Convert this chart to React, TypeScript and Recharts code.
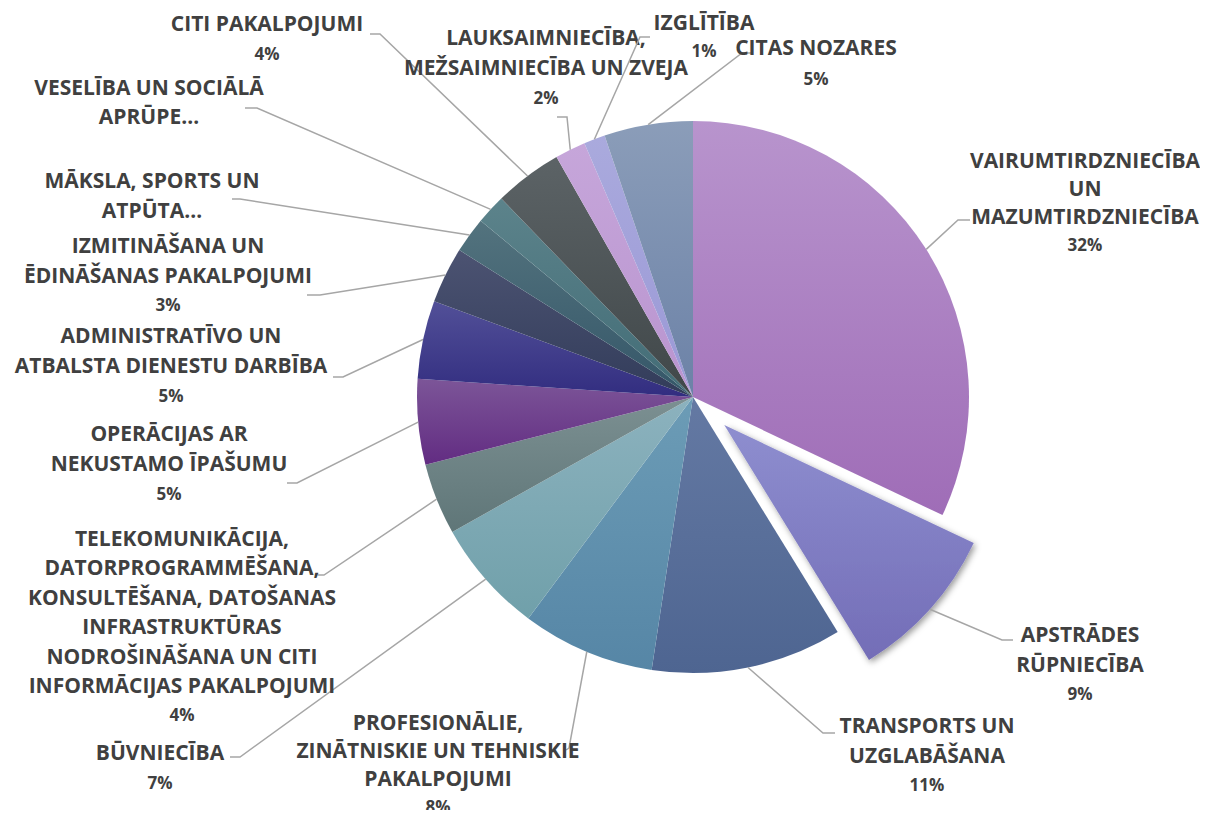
import { PieChart, Pie, Cell, Sector } from 'recharts';

const categories = [
  'VAIRUMTIRDZNIECĪBA\nUN\nMAZUMTIRDZNIECĪBA',
  'APSTRĀDES\nRŪPNIECĪBA',
  'TRANSPORTS UN\nUZGLABĀŠANA',
  'PROFESIONĀLIE,\nZINĀTNISKIE UN TEHNISKIE\nPAKALPOJUMI',
  'BŪVNIECĪBA',
  'TELEKOMUNIKĀCIJA,\nDATORPROGRAMMĒŠANA,\nKONSULTĒŠANA, DATOŠANAS\nINFRASTRUKTŪRAS\nNODROŠINĀŠANA UN CITI\nINFORMĀCIJAS PAKALPOJUMI',
  'OPERĀCIJAS AR\nNEKUSTAMO ĪPAŠUMU',
  'ADMINISTRATĪVO UN\nATBALSTA DIENESTU DARBĪBA',
  'IZMITINĀŠANA UN\nĒDINĀŠANAS PAKALPOJUMI',
  'MĀKSLA, SPORTS UN\nATPŪTA…',
  'VESELĪBA UN SOCIĀLĀ\nAPRŪPE…',
  'CITI PAKALPOJUMI',
  'LAUKSAIMNIECĪBA,\nMEŽSAIMNIECĪBA UN ZVEJA',
  'IZGLĪTĪBA',
  'CITAS NOZARES',
];

// share of each sector, %
const shares = [32.1, 9.2, 11.2, 7.8, 6.7, 4.2, 5.0, 4.6, 3.3, 2.1, 1.75, 4.0, 1.8, 1.25, 5.2];

// gradient colours, top -> bottom
const gradTop = [
  '#b894cd', '#8e8ecf', '#6479a3', '#6c9cb6', '#8cb2be', '#7c9092', '#7c5598', '#525098',
  '#4c5372', '#53737e', '#5c838b', '#5c6366', '#c6a6da', '#aaaadd', '#8b9db9',
];
const gradBottom = [
  '#9f6db7', '#736db7', '#4e6591', '#5686a6', '#70a0aa', '#5f7678', '#622c82', '#322d80',
  '#323c5a', '#345668', '#426c76', '#404749', '#b994cf', '#9a98d6', '#6c82a7',
];

// label text placement and leader line bends (page pixels)
const labelLayout = [
  { x: 1085, y: 160, step: 28, elbow: [958, 220], end: [970, 220] },
  { x: 1080, y: 634, step: 29.5, elbow: [1002, 640], end: [1013, 640] },
  { x: 927, y: 725, step: 29.5, elbow: [823, 733], end: [835, 733] },
  { x: 438, y: 722, step: 28, elbow: [569, 748], end: [566, 750] },
  { x: 160, y: 752, step: 29.5, elbow: [240, 757], end: [230, 757] },
  { x: 182, y: 538, step: 29.4, elbow: [324, 575], end: [318, 575] },
  { x: 169, y: 433, step: 30, elbow: [297, 483], end: [287, 483] },
  { x: 171, y: 335, step: 30, elbow: [343, 377], end: [333, 377] },
  { x: 168, y: 245, step: 29.5, elbow: [320, 295], end: [307, 295] },
  { x: 152, y: 180, step: 30, elbow: [240, 199], end: [232, 199] },
  { x: 149, y: 87, step: 29, elbow: [257, 108], end: [245, 108] },
  { x: 267, y: 23, step: 30, elbow: [380, 34], end: [370, 34] },
  { x: 546, y: 37, step: 30, elbow: [567, 117], end: [557, 117] },
  { x: 704, y: 22, step: 28, elbow: [640, 37], end: [650, 37] },
  { x: 816, y: 47, step: 31, elbow: [742, 53], end: [753, 53] },
];

const data = categories.map((name, i) => ({ name, value: shares[i] }));

const RAD = Math.PI / 180;
const EXPLODED = 1;
const EXPLODE_DIST = 42;

const renderLabel = (props: any) => {
  const { cx, cy, midAngle, outerRadius, startAngle, endAngle, index, percent } = props;
  const name: string = data[index].name;
  const ex = index === EXPLODED;
  const dx = ex ? EXPLODE_DIST * Math.cos(-midAngle * RAD) : 0;
  const dy = ex ? EXPLODE_DIST * Math.sin(-midAngle * RAD) : 0;
  const sx = cx + dx + outerRadius * Math.cos(-midAngle * RAD);
  const sy = cy + dy + outerRadius * Math.sin(-midAngle * RAD);
  const lay = labelLayout[index];
  const lines = name.split('\n');
  const withPct = !name.endsWith('…');
  if (withPct) lines.push(`${Math.round(percent * 100)}%`);
  return (
    <g key={`lbl-${index}`}>
      {ex && (
        <Sector
          cx={cx + dx}
          cy={cy + dy}
          innerRadius={0}
          outerRadius={outerRadius}
          startAngle={startAngle}
          endAngle={endAngle}
          fill={`url(#grad-${index})`}
          stroke="none"
          filter="url(#pieShadow)"
        />
      )}
      <polyline
        points={`${sx},${sy} ${lay.elbow[0]},${lay.elbow[1]} ${lay.end[0]},${lay.end[1]}`}
        fill="none"
        stroke="#a6a6a6"
        strokeWidth={1.5}
      />
      <text
        textAnchor="middle"
        dominantBaseline="central"
        fill="#404040"
        fontWeight={700}
        fontFamily="'Open Sans', Lato, sans-serif"
      >
        {lines.map((l, i) => (
          <tspan
            key={i}
            x={lay.x}
            y={lay.y + i * lay.step}
            fontSize={withPct && i === lines.length - 1 ? 17 : 21}
          >
            {l}
          </tspan>
        ))}
      </text>
    </g>
  );
};

export default function App() {
  return (
    <div style={{ margin: -8, width: 1208, height: 818, background: '#fff' }}>
      <style>{`.recharts-pie-sectors { filter: url(#pieShadow); }`}</style>
      <PieChart width={1208} height={818} margin={{ top: 0, right: 0, bottom: 0, left: 0 }}>
        <defs>
          {gradTop.map((c, i) => (
            <linearGradient key={i} id={`grad-${i}`} x1="0" y1="0" x2="0" y2="1">
              <stop offset="0%" stopColor={c} />
              <stop offset="100%" stopColor={gradBottom[i]} />
            </linearGradient>
          ))}
          <filter id="pieShadow" x="-20%" y="-20%" width="140%" height="140%">
            <feDropShadow dx="2" dy="2.5" stdDeviation="3" floodColor="#000" floodOpacity="0.4" />
          </filter>
        </defs>
        <Pie
          data={data}
          dataKey="value"
          nameKey="name"
          cx={693}
          cy={397}
          outerRadius={276}
          startAngle={90}
          endAngle={-270}
          stroke="none"
          label={renderLabel}
          labelLine={false}
          isAnimationActive={false}
        >
          {data.map((d, i) => (
            <Cell key={d.name} fill={i === EXPLODED ? 'transparent' : `url(#grad-${i})`} />
          ))}
        </Pie>
      </PieChart>
    </div>
  );
}
